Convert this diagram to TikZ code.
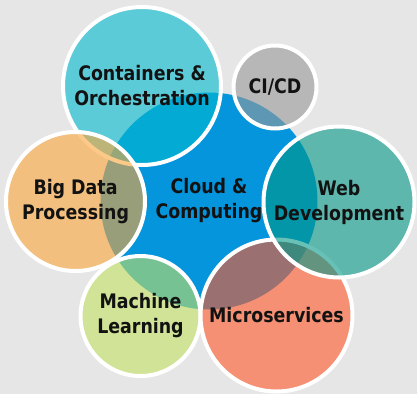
\documentclass[tikz,border=0pt]{standalone}
\usepackage{fontspec}
\newfontfamily\lblfont{DejaVu Sans}[FakeStretch=0.87]
\definecolor{bgc}{HTML}{E6E6E6}
\definecolor{cloudc}{HTML}{0595DC}
\definecolor{contc}{HTML}{00B9D0}
\definecolor{bigc}{HTML}{FCA53A}
\definecolor{mlc}{HTML}{C3E162}
\definecolor{microc}{HTML}{FF5828}
\definecolor{webc}{HTML}{039888}
\definecolor{cicdc}{HTML}{999999}
\tikzset{
  lbl/.style={font=\lblfont\bfseries\fontsize{20}{25}\selectfont, text=black!93, align=center},
  bubble/.style={lbl, circle, inner sep=0pt, minimum size=#1, draw=white, line width=4pt, fill opacity=0.6, draw opacity=1, text opacity=1},
  core/.style={lbl, circle, inner sep=0pt, minimum size=#1, fill=cloudc}
}
\begin{document}
\begin{tikzpicture}[x=1pt, y=-1pt]
\fill[bgc] (0,0) rectangle (417,394);
\useasboundingbox (0,0) rectangle (417,394);
\node[core=217pt] (cloud) at (209,201) {Cloud \&\\Computing};
\node[bubble=158pt, fill=contc] (cont) at (142,86) {Containers \&\\Orchestration};
\node[bubble=139pt, fill=bigc] (big) at (75.5,201.5) {Big Data\\Processing};
\node[bubble=120pt, fill=mlc] (ml) at (140.5,316) {Machine\\Learning};
\node[bubble=152pt, fill=microc] (micro) at (276.5,315.5) {Microservices};
\node[bubble=151pt, fill=webc] (web) at (339,202) {Web\\Development};
\node[bubble=83pt, fill=cicdc] (cicd) at (275,87) {CI/CD};
\end{tikzpicture}
\end{document}
